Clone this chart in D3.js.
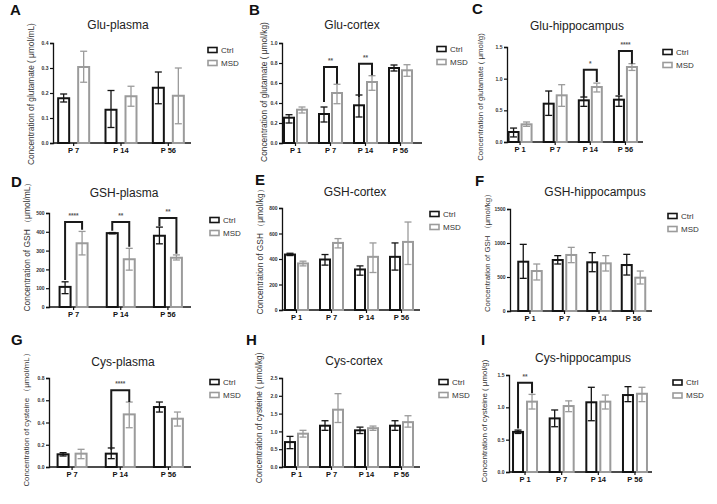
<!DOCTYPE html>
<html><head><meta charset="utf-8">
<script src="https://cdn.jsdelivr.net/npm/d3@7/dist/d3.min.js"></script>
<style>
html,body{margin:0;padding:0;background:#fff;}
svg{display:block;font-family:"Liberation Sans",Arial,sans-serif;}
</style></head>
<body><svg id="c" width="717" height="504"></svg>
<script>
// ---------- DATA ----------
const groups3 = ["P 7", "P 14", "P 56"];
const groups4 = ["P 1", "P 7", "P 14", "P 56"];
const seriesNames = ["Ctrl", "MSD"];

// A Glu-plasma
const A_ctrl = [0.179, 0.133, 0.221], A_ctrlLo = [0.164, 0.062, 0.157], A_ctrlHi = [0.196, 0.210, 0.284];
const A_msd = [0.304, 0.187, 0.189], A_msdLo = [0.243, 0.147, 0.077], A_msdHi = [0.367, 0.227, 0.300];
const A_ticks = [0, 0.1, 0.2, 0.3, 0.4];
const A_sig = [];
// B Glu-cortex
const B_ctrl = [0.253, 0.290, 0.377, 0.750], B_ctrlLo = [0.200, 0.210, 0.260, 0.720], B_ctrlHi = [0.283, 0.360, 0.480, 0.780];
const B_msd = [0.333, 0.500, 0.610, 0.727], B_msdLo = [0.300, 0.393, 0.527, 0.667], B_msdHi = [0.360, 0.587, 0.673, 0.783];
const B_ticks = [0, 0.2, 0.4, 0.6, 0.8, 1.0];
const B_sig = [["P 7", 0.76, 0.41, 0.593, "**"], ["P 14", 0.793, 0.46, 0.677, "**"]];
// C Glu-hippocampus
const C_ctrl = [0.158, 0.605, 0.658, 0.668], C_ctrlLo = [0.080, 0.420, 0.563, 0.563], C_ctrlHi = [0.220, 0.805, 0.710, 0.726];
const C_msd = [0.279, 0.737, 0.868, 1.184], C_msdLo = [0.247, 0.563, 0.790, 1.130], C_msdHi = [0.316, 0.905, 0.930, 1.237];
const C_ticks = [0, 0.5, 1.0, 1.5];
const C_sig = [["P 14", 1.142, 0.71, 0.947, "*"], ["P 56", 1.437, 0.737, 1.237, "****"]];
// D GSH-plasma
const D_ctrl = [107, 393, 379], D_ctrlLo = [71, 389, 336], D_ctrlHi = [134, 396, 425];
const D_msd = [339, 254, 262], D_msdLo = [277, 196, 250], D_msdHi = [402, 312, 277];
const D_ticks = [0, 100, 200, 300, 400, 500];
const D_sig = [["P 7", 452, 143, 411, "****"], ["P 14", 452, 405, 321, "**"], ["P 56", 473, 429, 283, "**"]];
// E GSH-cortex
const E_ctrl = [435, 396, 318, 417], E_ctrlLo = [427, 352, 273, 313], E_ctrlHi = [445, 435, 346, 526];
const E_msd = [365, 526, 417, 534], E_msdLo = [346, 487, 294, 357], E_msdHi = [383, 560, 526, 690];
const E_ticks = [0, 200, 400, 600, 800];
const E_sig = [];
// F GSH-hippocampus
const F_ctrl = [725, 750, 716, 676], F_ctrlLo = [480, 691, 578, 529], F_ctrlHi = [980, 814, 858, 833];
const F_msd = [588, 824, 701, 490], F_msdLo = [456, 711, 588, 397], F_msdHi = [691, 936, 814, 588];
const F_ticks = [0, 500, 1000, 1500];
const F_sig = [];
// G Cys-plasma
const G_ctrl = [0.114, 0.120, 0.539], G_ctrlLo = [0.099, 0.075, 0.494], G_ctrlHi = [0.129, 0.171, 0.584];
const G_msd = [0.120, 0.473, 0.434], G_msdLo = [0.075, 0.353, 0.368], G_msdHi = [0.159, 0.584, 0.494];
const G_ticks = [0, 0.2, 0.4, 0.6, 0.8];
const G_sig = [["P 14", 0.689, 0.156, 0.584, "****"]];
// H Cys-cortex
const H_ctrl = [0.70, 1.16, 1.03, 1.16], H_ctrlLo = [0.515, 1.03, 0.94, 1.03], H_ctrlHi = [0.86, 1.30, 1.12, 1.30];
const H_msd = [0.936, 1.61, 1.09, 1.26], H_msdLo = [0.84, 1.25, 1.03, 1.12], H_msdHi = [1.03, 2.06, 1.15, 1.44];
const H_ticks = [0, 0.5, 1.0, 1.5, 2.0, 2.5];
const H_sig = [];
// I Cys-hippocampus
const I_ctrl = [0.620, 0.829, 1.078, 1.190], I_ctrlLo = [0.596, 0.700, 0.793, 1.088], I_ctrlHi = [0.648, 0.959, 1.310, 1.320];
const I_msd = [1.088, 1.020, 1.088, 1.210], I_msdLo = [0.974, 0.933, 0.974, 1.088], I_msdHi = [1.200, 1.100, 1.190, 1.310];
const I_ticks = [0, 0.5, 1.0, 1.5];
const I_sig = [["P 1", 1.382, 0.674, 1.218, "**"]];

const titles = ["Glu-plasma", "Glu-cortex", "Glu-hippocampus", "GSH-plasma", "GSH-cortex", "GSH-hippocampus", "Cys-plasma", "Cys-cortex", "Cys-hippocampus"];
const yLabels = [
  "Concentration of glutamate ( μmol/mL)",
  "Concentration of glutamate ( μmol/kg)",
  "Concentration of glutamate ( μmol/g)",
  "Concentration of GSH （μmol/mL）",
  "Concentration of GSH （μmol/kg）",
  "Concentration of GSH （μmol/kg）",
  "Concentration of cysteine （μmol/mL）",
  "Concentration of cysteine ( μmol/kg)",
  "Concentration of cysteine ( μmol/g)"
];
const letters = ["A", "B", "C", "D", "E", "F", "G", "H", "I"];

// ---------- LAYOUT ----------
const panels = [
  {g:groups3, c:[A_ctrl,A_ctrlLo,A_ctrlHi], m:[A_msd,A_msdLo,A_msdHi], t:A_ticks, sig:A_sig, fmt:".1f",
   ax:53, y0:143, y1:43, axEnd:191, band:[50,192], bw:11, off:10, leg:[208,50], title:[118,29], letter:[10,15], ylab:[31,94], ylen:142},
  {g:groups4, c:[B_ctrl,B_ctrlLo,B_ctrlHi], m:[B_msd,B_msdLo,B_msdHi], t:B_ticks, sig:B_sig, fmt:".1f",
   ax:282, y0:143, y1:43, axEnd:422, band:[278,418], bw:10, off:6.5, leg:[437,49], title:[352,29], letter:[249,15], ylab:[264,92], ylen:140},
  {g:groups4, c:[C_ctrl,C_ctrlLo,C_ctrlHi], m:[C_msd,C_msdLo,C_msdHi], t:C_ticks, sig:C_sig, fmt:".1f",
   ax:507, y0:142, y1:47, axEnd:643, band:[502.5,643], bw:10, off:6.5, leg:[663,52], title:[577,30], letter:[472,14], ylab:[480,97], ylen:128},
  {g:groups3, c:[D_ctrl,D_ctrlLo,D_ctrlHi], m:[D_msd,D_msdLo,D_msdHi], t:D_ticks, sig:D_sig, fmt:"d",
   ax:49, y0:307, y1:213, axEnd:191, band:[50,191.5], bw:11, off:8.5, leg:[210,220], title:[124,197], letter:[11,187], ylab:[27,245], ylen:134},
  {g:groups4, c:[E_ctrl,E_ctrlLo,E_ctrlHi], m:[E_msd,E_msdLo,E_msdHi], t:E_ticks, sig:E_sig, fmt:"d",
   ax:282, y0:310, y1:208, axEnd:420, band:[279,419], bw:10, off:6.5, leg:[430,214], title:[355,196], letter:[255,185], ylab:[260,250], ylen:130},
  {g:groups4, c:[F_ctrl,F_ctrlLo,F_ctrlHi], m:[F_msd,F_msdLo,F_msdHi], t:F_ticks, sig:F_sig, fmt:"d",
   ax:510, y0:311, y1:209, axEnd:652, band:[512.75,650.75], bw:10, off:6.75, leg:[668,216], title:[595,196], letter:[475,186], ylab:[487,251], ylen:122},
  {g:groups3, c:[G_ctrl,G_ctrlLo,G_ctrlHi], m:[G_msd,G_msdLo,G_msdHi], t:G_ticks, sig:G_sig, fmt:".1f",
   ax:49, y0:467, y1:378, axEnd:191, band:[48,192.5], bw:11, off:9, leg:[210,382], title:[123,366], letter:[11,345], ylab:[26,418], ylen:137},
  {g:groups4, c:[H_ctrl,H_ctrlLo,H_ctrlHi], m:[H_msd,H_msdLo,H_msdHi], t:H_ticks, sig:H_sig, fmt:".1f",
   ax:282, y0:467, y1:378, axEnd:420, band:[279,419], bw:10, off:6.5, leg:[439,382], title:[354,365], letter:[246,345], ylab:[259,418], ylen:131},
  {g:groups4, c:[I_ctrl,I_ctrlLo,I_ctrlHi], m:[I_msd,I_msdLo,I_msdHi], t:I_ticks, sig:I_sig, fmt:".1f",
   ax:509, y0:472, y1:375, axEnd:652, band:[506.7,653.3], bw:10, off:7, leg:[673,382.5], title:[583,362], letter:[481,345], ylab:[484,421], ylen:123}
];

const colCtrl = "#141414", colMsd = "#9b9b9b";
const svg = d3.select("#c");

panels.forEach((p, i) => {
  const gp = svg.append("g");
  const y = d3.scaleLinear().domain([0, p.t[p.t.length - 1]]).range([p.y0, p.y1]);
  const x = d3.scaleBand().domain(p.g).range(p.band).padding(0);
  const cx = (gi, s) => x(p.g[gi]) + x.bandwidth() / 2 + (s === 0 ? -p.off : p.off);

  // letter
  gp.append("text").attr("x", p.letter[0]).attr("y", p.letter[1])
    .attr("font-size", 15).attr("font-weight", "bold").attr("fill", "#111").text(letters[i]);
  // title
  gp.append("text").attr("x", p.title[0]).attr("y", p.title[1]).attr("text-anchor", "middle")
    .attr("font-size", 12).attr("fill", "#222").text(titles[i]);
  // y label, font fitted to measured length
  const yl = gp.append("text").attr("transform", `translate(${p.ylab[0]},${p.ylab[1]}) rotate(-90)`)
    .attr("text-anchor", "middle").attr("dy", "0.35em").attr("font-size", 8).attr("fill", "#333").text(yLabels[i]);
  const len = yl.node().getComputedTextLength();
  if (len > 0) yl.attr("font-size", Math.min(10.5, 8 * p.ylen / len));

  // y axis
  const yAx = gp.append("g").attr("transform", `translate(${p.ax},0)`)
    .call(d3.axisLeft(y).tickValues(p.t).tickFormat(d3.format(p.fmt)).tickSize(3).tickPadding(1.5));
  yAx.select(".domain").attr("stroke", "#111").attr("stroke-width", 1.3);
  yAx.selectAll(".tick line").attr("stroke", "#111").attr("stroke-width", 1.2);
  yAx.selectAll(".tick text").attr("font-size", 5).attr("font-weight", "bold").attr("fill", "#333")
    .attr("font-family", "Liberation Sans, Arial, sans-serif");

  // x axis
  const xAx = gp.append("g").attr("transform", `translate(0,${p.y0})`)
    .call(d3.axisBottom(x).tickSize(3).tickPadding(2));
  xAx.select(".domain").remove();
  xAx.selectAll(".tick line").attr("stroke", "#111").attr("stroke-width", 1.2);
  xAx.selectAll(".tick text").attr("font-size", 7.5).attr("font-weight", "bold").attr("fill", "#111")
    .attr("font-family", "Liberation Sans, Arial, sans-serif");
  gp.append("line").attr("x1", p.ax).attr("x2", p.axEnd).attr("y1", p.y0).attr("y2", p.y0)
    .attr("stroke", "#111").attr("stroke-width", 1.4);

  // bars
  [p.c, p.m].forEach((ser, s) => {
    const col = s === 0 ? colCtrl : colMsd;
    const [vals, lo, hi] = ser;
    const bars = gp.append("g");
    bars.selectAll("rect").data(vals).join("rect")
      .attr("x", (d, gi) => cx(gi, s) - p.bw / 2)
      .attr("y", d => y(d))
      .attr("width", p.bw)
      .attr("height", d => p.y0 - y(d))
      .attr("fill", "#fff").attr("stroke", col).attr("stroke-width", 2);
    const eb = gp.append("g").attr("stroke", col).attr("stroke-width", 1.3);
    vals.forEach((d, gi) => {
      const xc = cx(gi, s);
      eb.append("line").attr("x1", xc).attr("x2", xc).attr("y1", y(lo[gi])).attr("y2", y(hi[gi]));
      eb.append("line").attr("x1", xc - 3.5).attr("x2", xc + 3.5).attr("y1", y(lo[gi])).attr("y2", y(lo[gi]));
      eb.append("line").attr("x1", xc - 3.5).attr("x2", xc + 3.5).attr("y1", y(hi[gi])).attr("y2", y(hi[gi]));
    });
  });

  // significance brackets
  p.sig.forEach(([grp, top, le, re, lab]) => {
    const gi = p.g.indexOf(grp);
    const xl = cx(gi, 0), xr = cx(gi, 1);
    gp.append("path")
      .attr("d", `M${xl},${y(le)}V${y(top)}H${xr}V${y(re)}`)
      .attr("fill", "none").attr("stroke", "#1a1a1a").attr("stroke-width", 2);
    gp.append("text").attr("x", (xl + xr) / 2).attr("y", y(top) - 4).attr("text-anchor", "middle")
      .attr("font-size", 6.5).attr("font-weight", "bold").attr("fill", "#555").text(lab);
  });

  // legend
  seriesNames.forEach((nm, s) => {
    const ly = p.leg[1] + s * 13;
    gp.append("rect").attr("x", p.leg[0]).attr("y", ly - 2.5).attr("width", 9).attr("height", 5)
      .attr("fill", "#fff").attr("stroke", s === 0 ? colCtrl : colMsd).attr("stroke-width", 1.6);
    gp.append("text").attr("x", p.leg[0] + 13).attr("y", ly).attr("dy", "0.35em")
      .attr("font-size", 8).attr("fill", "#333").text(nm);
  });
});
</script></body></html>
